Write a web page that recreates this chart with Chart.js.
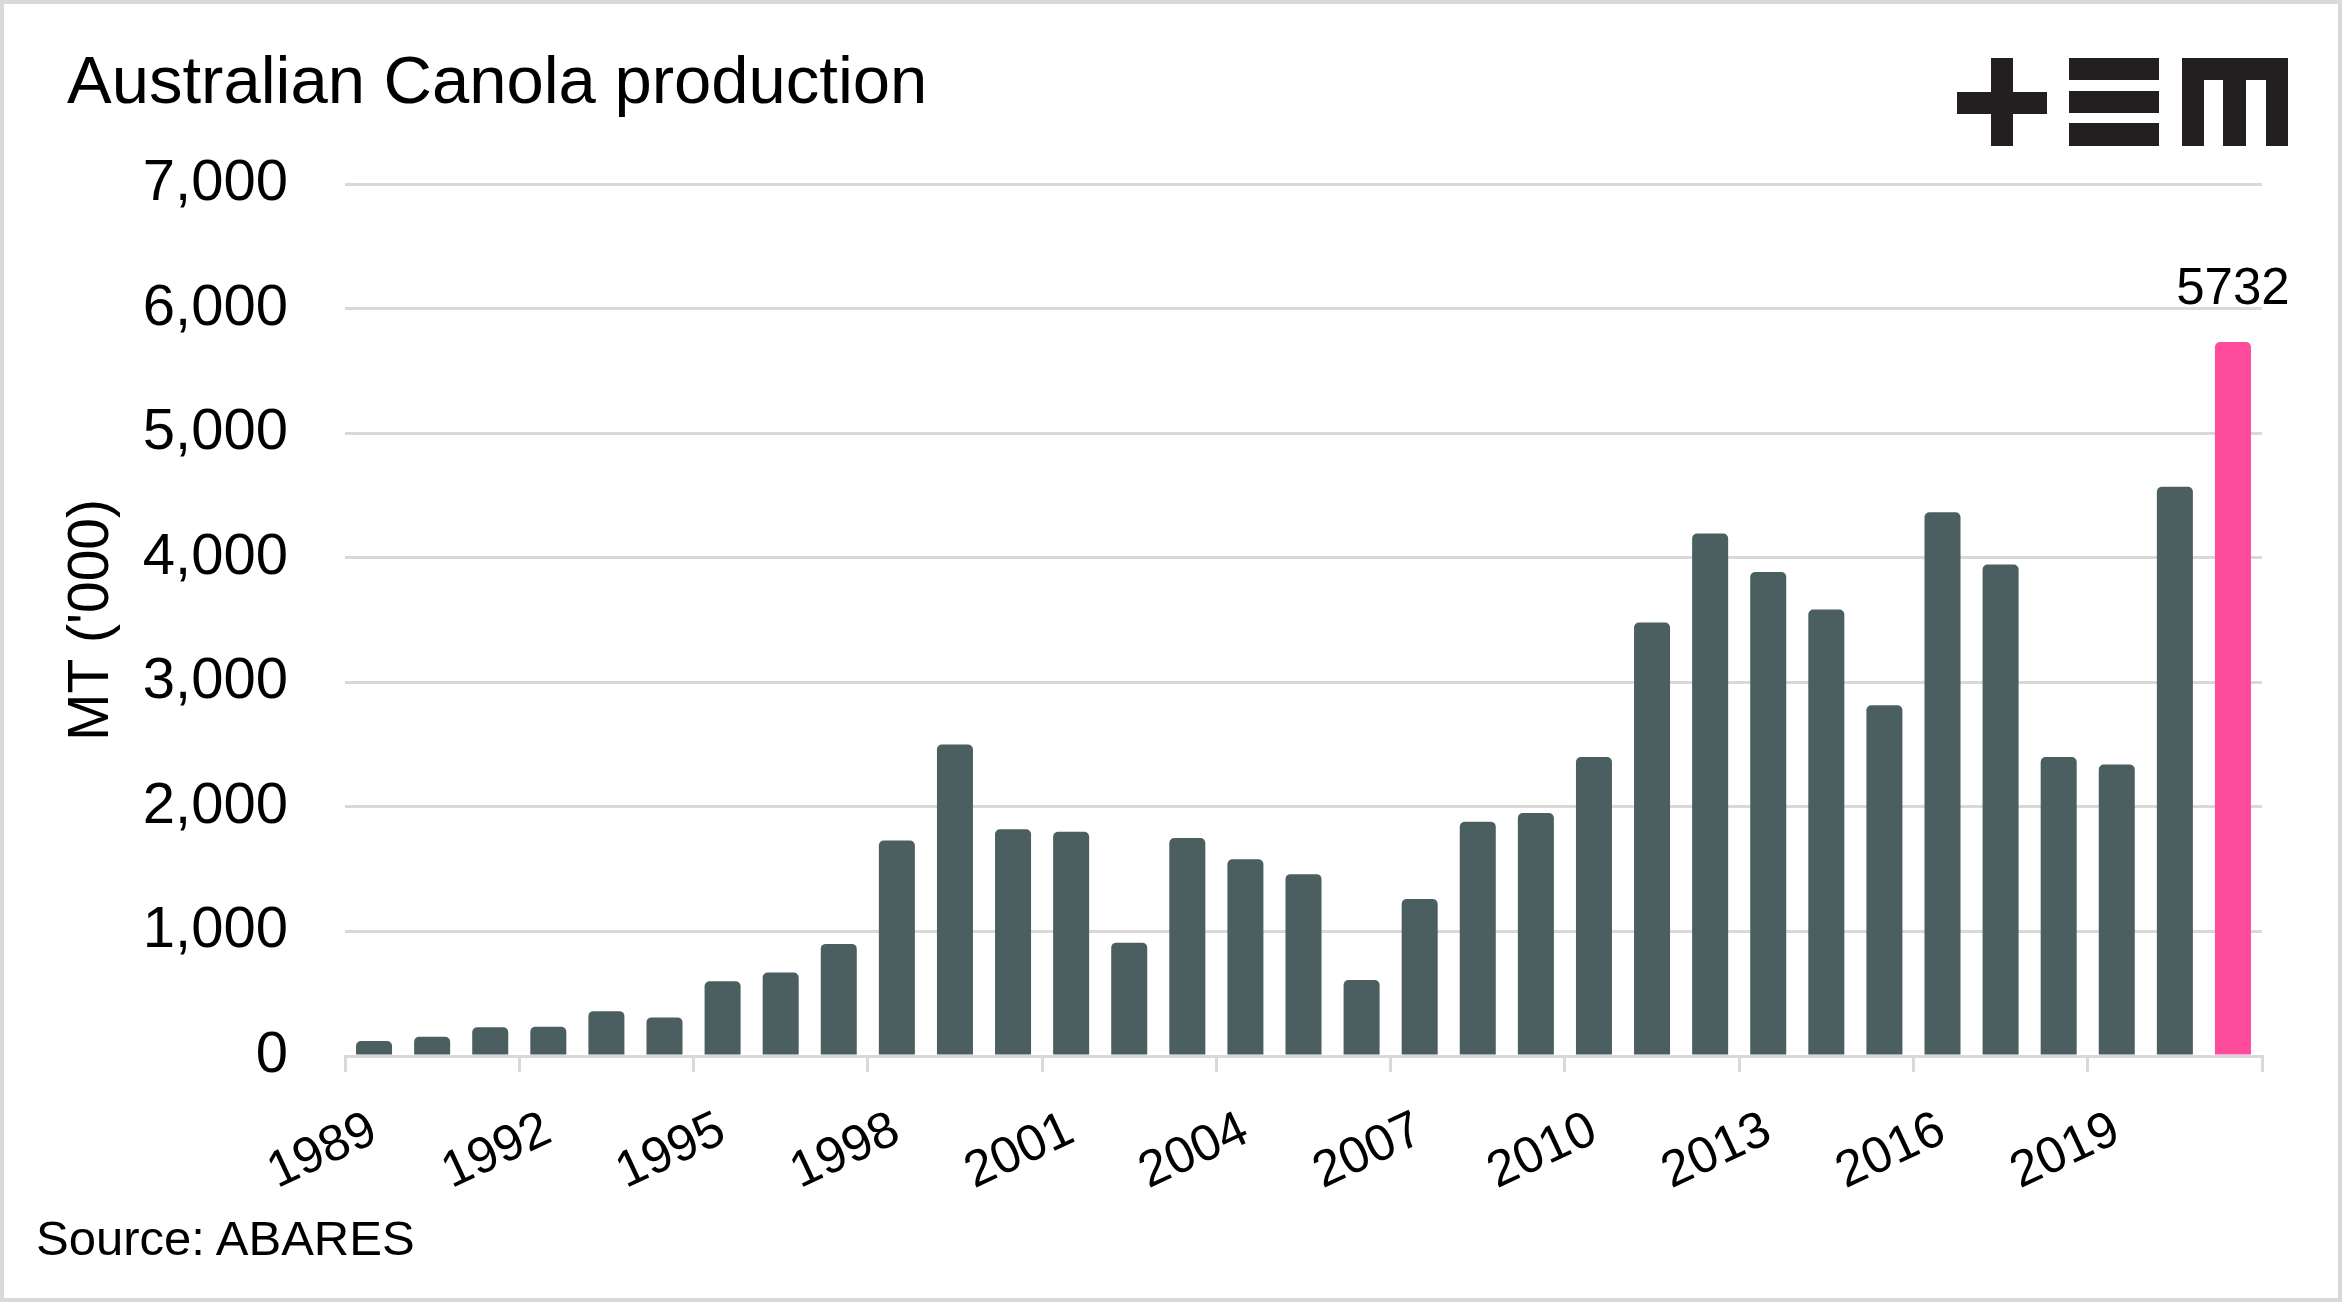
<!DOCTYPE html>
<html>
<head>
<meta charset="utf-8">
<script src="https://cdn.jsdelivr.net/npm/chart.js@4.4.1/dist/chart.umd.min.js"></script>
<style>
  html, body { margin: 0; padding: 0; background: #fff; }
  #frame { position: relative; width: 2342px; height: 1302px; box-sizing: border-box; border: 4px solid #d9d9d9; overflow: hidden; font-family: "Liberation Sans", Arial, sans-serif; }
  #wrap { position: absolute; left: -4px; top: -4px; width: 2342px; height: 1302px; }
  #title { position: absolute; left: 63px; top: 42px; font-size: 67px; line-height: 1; color: #000; }
  #source { position: absolute; left: 32px; top: 1210px; font-size: 49px; line-height: 1; color: #000; }
  .logo { position: absolute; background: #231f20; }
</style>
</head>
<body>
<div id="frame">
  <div id="wrap"><canvas id="chart"></canvas></div>
  <div id="title">Australian Canola production</div>
  <div id="source">Source: ABARES</div>
  <!-- +EM logo -->
  <div class="logo" style="left:1953px;top:88px;width:90px;height:22px"></div>
  <div class="logo" style="left:1987px;top:54px;width:22px;height:88px"></div>
  <div class="logo" style="left:2065px;top:54px;width:90px;height:22px"></div>
  <div class="logo" style="left:2065px;top:87px;width:90px;height:22px"></div>
  <div class="logo" style="left:2065px;top:119px;width:90px;height:23px"></div>
  <div class="logo" style="left:2178px;top:54px;width:106px;height:22px"></div>
  <div class="logo" style="left:2178px;top:54px;width:22px;height:88px"></div>
  <div class="logo" style="left:2219px;top:54px;width:23px;height:88px"></div>
  <div class="logo" style="left:2262px;top:54px;width:22px;height:88px"></div>
</div>
<script>
const years = ['1989','1990','1991','1992','1993','1994','1995','1996','1997','1998','1999','2000',
  '2001','2002','2003','2004','2005','2006','2007','2008','2009','2010','2011','2012',
  '2013','2014','2015','2016','2017','2018','2019','2020','2021'];
const production = [120, 155, 230, 235, 360, 310, 600, 670, 900, 1730, 2500, 1820,
  1800, 910, 1750, 1580, 1460, 610, 1260, 1880, 1950, 2400, 3480, 4195,
  3885, 3585, 2815, 4365, 3945, 2400, 2340, 4570, 5732];
const yTicks = [0, 1000, 2000, 3000, 4000, 5000, 6000, 7000];

const FONT = '"Liberation Sans", Arial, sans-serif';
const GREY = '#d9d9d9';

// value label over the last (highlighted) bar
const lastLabel = {
  id: 'lastLabel',
  afterDatasetsDraw(chart) {
    const meta = chart.getDatasetMeta(0);
    const i = production.length - 1;
    const bar = meta.data[i];
    const ctx = chart.ctx;
    ctx.save();
    ctx.font = '51px ' + FONT;
    ctx.fillStyle = '#000';
    ctx.textAlign = 'center';
    ctx.textBaseline = 'middle';
    ctx.fillText(String(production[i]), bar.x, bar.y - 52);
    ctx.restore();
  }
};

new Chart(document.getElementById('chart'), {
  type: 'bar',
  data: {
    labels: years,
    datasets: [{
      data: production,
      backgroundColor: ctx => ctx.dataIndex === production.length - 1 ? '#ff4b9b' : '#4b5e60',
      borderRadius: 5,
      barPercentage: 0.62,
      categoryPercentage: 1.0
    }]
  },
  options: {
    responsive: true,
    maintainAspectRatio: false,
    animation: false,
    layout: { padding: { left: 0, right: 80, top: 184, bottom: 96 } },
    plugins: { legend: { display: false }, tooltip: { enabled: false } },
    scales: {
      x: {
        offset: true,
        afterFit: s => { s.height = 150; },
        border: { display: true, color: GREY, width: 3 },
        grid: {
          offset: true,
          drawOnChartArea: false,
          drawTicks: true,
          tickLength: 16,
          lineWidth: 3,
          color: ctx => (ctx.index === undefined || ctx.index % 3 === 0) ? GREY : 'rgba(0,0,0,0)'
        },
        ticks: {
          autoSkip: false,
          maxRotation: 25,
          minRotation: 25,
          padding: 28,
          color: '#000',
          font: { family: FONT, size: 51 },
          callback: (v, i) => i % 3 === 0 ? years[i] : ''
        }
      },
      y: {
        min: 0,
        max: 7000,
        afterFit: s => { s.width = 345; },
        afterBuildTicks: s => { s.ticks = yTicks.map(v => ({ value: v })); },
        border: { display: false },
        grid: { color: GREY, lineWidth: 3, drawTicks: false },
        ticks: {
          padding: 57,
          color: '#000',
          font: { family: FONT, size: 58 },
          callback: v => v.toLocaleString('en-US')
        },
        title: {
          display: true,
          text: "MT ('000)",
          color: '#000',
          font: { family: FONT, size: 57 },
          padding: { top: 58, bottom: 0 }
        }
      }
    }
  },
  plugins: [lastLabel]
});
</script>
</body>
</html>
